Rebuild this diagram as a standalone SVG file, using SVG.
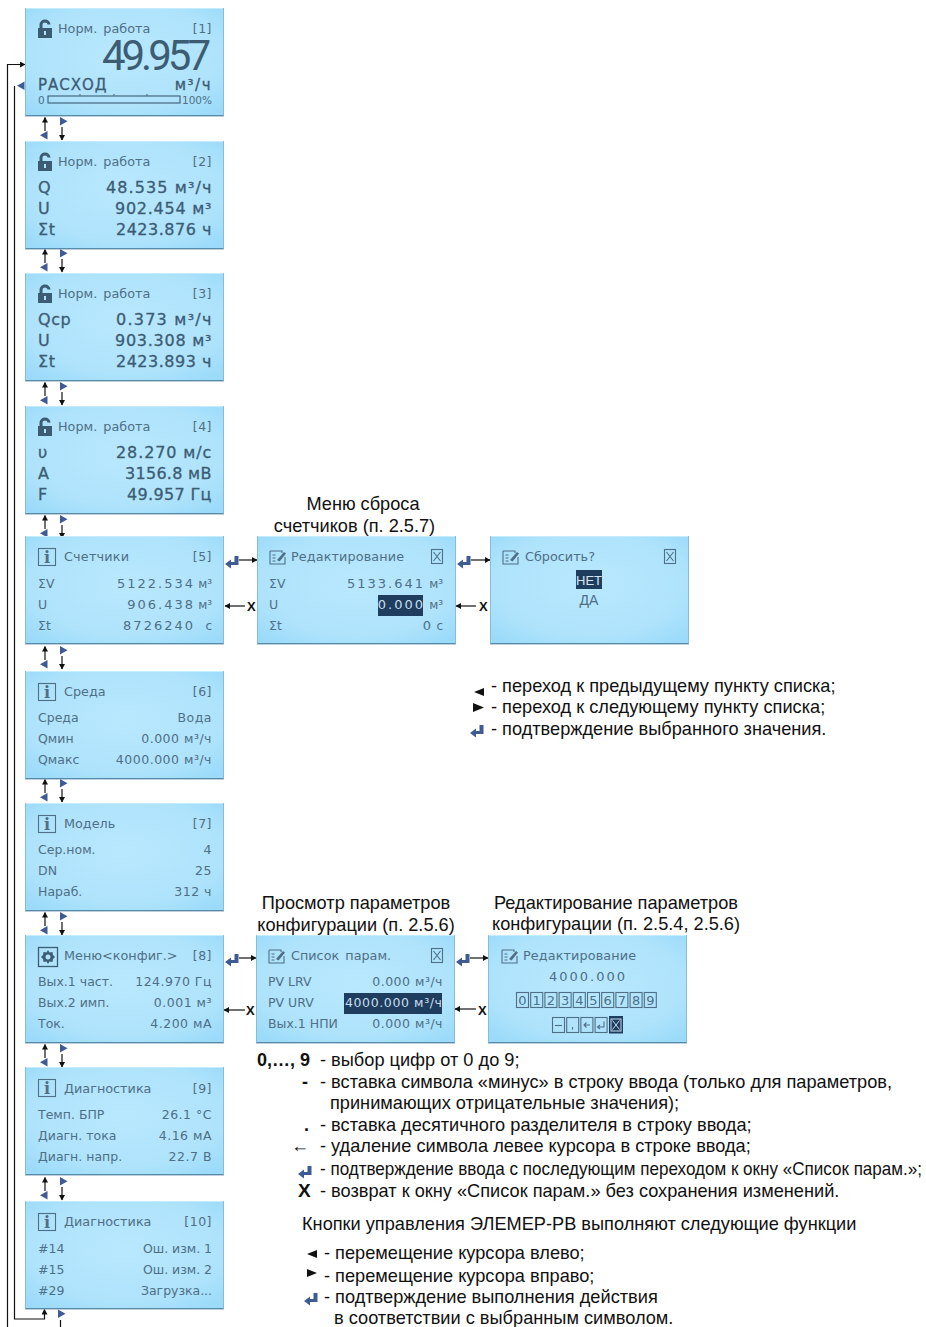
<svg xmlns="http://www.w3.org/2000/svg" xmlns:xlink="http://www.w3.org/1999/xlink" width="926" height="1327" viewBox="0 0 926 1327">
<style>
text{font-family:"DejaVu Sans",sans-serif;fill:#4f6f86}
.t{font-size:12.8px;word-spacing:2px}
.r{font-size:12.5px;text-anchor:end;letter-spacing:.5px}
.n{font-size:12.5px;text-anchor:end}
.l{font-size:12.5px}
.w{font-size:13px;text-anchor:end;letter-spacing:2px}
.u{font-size:12px;text-anchor:end}
.b{font-size:16px;fill:#3c5c74;stroke:#3c5c74;stroke-width:.3;letter-spacing:.6px}
.be{text-anchor:end}
.s{font-family:"Liberation Sans",Arial,sans-serif;font-size:18.2px;fill:#111}
.c{text-anchor:middle}
.k{font-family:"Liberation Sans",Arial,sans-serif;font-weight:bold;fill:#111;font-size:18px}
.x{font-family:"Liberation Sans",Arial,sans-serif;font-weight:bold;fill:#111;font-size:13px}
.line{fill:none;stroke:#111;stroke-width:1.2}
.box{fill:none;stroke:#4f6f86;stroke-width:1.1}
</style>
<defs>
<radialGradient id="lcd" cx="50%" cy="45%" r="68%"><stop offset="0" stop-color="#b8e8fe"/><stop offset=".7" stop-color="#afe3fc"/><stop offset="1" stop-color="#9bdbf9"/></radialGradient>
<g id="panel"><rect x="0" y="0" width="199" height="108" fill="url(#lcd)"/><rect x="0" y="0" width="199" height="1" fill="#c4ecfd"/><rect x="0" y="107" width="199" height="1.400" fill="#5a8aaa"/><rect x="0" y="0" width=".8" height="108" fill="#7fb4d2"/><rect x="198.200" y="0" width=".8" height="108" fill="#7fb4d2"/></g>
<g id="lock"><path d="M0 8h14v10H0z" fill="#3c5c74"/><path d="M3 8V4.500a4 3.500 0 0 1 8 0" fill="none" stroke="#3c5c74" stroke-width="3"/><rect x="6" y="11" width="2" height="4" fill="#b0e3fc"/></g>
<g id="info"><rect x=".5" y=".5" width="17" height="17" class="box"/><text x="9" y="15" text-anchor="middle" style="font-family:'DejaVu Serif',serif;font-size:16px;font-weight:bold;fill:#4f6f86">i</text></g>
<g id="edit"><path d="M1 2h12l0 2M1 2v13h15V8" class="box"/><path d="M3.500 6h3M3.500 9h3M3.500 12h3" class="box"/><path d="M8 11l7-8 2 1.500-6.500 8z" fill="#4f6f86"/></g>
<g id="xbox"><rect x=".5" y=".5" width="11" height="14" class="box"/><path d="M2.500 3l7 9M9.500 3l-7 9" class="box"/></g>
<path id="enter" d="M9.500 0h4v9H6v3.500L0 8l6-4.500V6h3.500z" fill="#3f5b94"/>
<path id="tl" d="M7.500 0v8.500L0 4.250z" fill="#3f5b94"/>
<path id="tr" d="M0 0v8.500L7.500 4.250z" fill="#3f5b94"/>
<marker id="ah" markerUnits="userSpaceOnUse" markerWidth="7" markerHeight="7" refX="5" refY="3" orient="auto"><path d="M0 0L5.500 3L0 6z" fill="#111"/></marker>
<g id="ud"><path d="M20 15V1.500" class="line" marker-end="url(#ah)"/><path d="M37 11V24" class="line" marker-end="url(#ah)"/><use href="#tl" x="15" y="15"/><use href="#tr" x="35" y="1"/></g>
</defs>

<g id="connectors">
<path d="M7.500 1327V64.500H25" class="line" marker-end="url(#ah)"/>
<path d="M14.500 86V1319H44.500V1309.500" class="line" marker-end="url(#ah)"/>
<use href="#tl" x="17" y="81.500"/>
<use href="#ud" x="25" y="116"/>
<use href="#ud" x="25" y="248"/>
<use href="#ud" x="25" y="381"/>
<use href="#ud" x="25" y="514"/>
<use href="#ud" x="25" y="645"/>
<use href="#ud" x="25" y="778"/>
<use href="#ud" x="25" y="911"/>
<use href="#ud" x="25" y="1043"/>
<use href="#ud" x="25" y="1176"/>
<use href="#tr" x="58" y="1309.500"/>
<path d="M60.500 1320V1327" class="line"/>
<use href="#enter" x="225" y="556"/><path d="M239 560H257" class="line" marker-end="url(#ah)"/>
<path d="M245 606H225" class="line" marker-end="url(#ah)"/><text x="247" y="611" class="x">X</text>
<use href="#enter" x="457" y="556"/><path d="M471 560H490" class="line" marker-end="url(#ah)"/>
<path d="M476 606H456" class="line" marker-end="url(#ah)"/><text x="479" y="611" class="x">X</text>
<use href="#enter" x="225" y="954"/><path d="M239 958H256" class="line" marker-end="url(#ah)"/>
<path d="M245 1010H224" class="line" marker-end="url(#ah)"/><text x="246" y="1015" class="x">X</text>
<use href="#enter" x="456" y="954"/><path d="M470 958H488" class="line" marker-end="url(#ah)"/>
<path d="M476 1009H455" class="line" marker-end="url(#ah)"/><text x="478" y="1015" class="x">X</text>
</g>

<g id="n1" transform="translate(25,8)"><use href="#panel"/><use href="#lock" x="13" y="12"/><text x="33" y="25" class="t">Норм. работа</text><text x="187" y="25" class="r">[1]</text>
<text x="182" y="62" text-anchor="end" style="font-family:Roboto,sans-serif;font-weight:400;font-size:42px;letter-spacing:-4px;fill:#3c5c74">49.957</text>
<text x="13" y="82" class="b" style="font-size:15px;letter-spacing:1px">РАСХОД</text><text x="187" y="82" class="b be" style="letter-spacing:1.500px;font-size:15px">м³/ч</text>
<text x="13" y="96" style="font-size:10.5px">0</text><rect x="23" y="88" width="132" height="7" fill="none" stroke="#3c5c74" stroke-width="1.100"/><path d="M55 86v2M89 86v2M122 86v2" class="box"/><text x="187" y="96" text-anchor="end" style="font-size:10.5px">100%</text></g>

<g id="n2" transform="translate(25,141)"><use href="#panel"/><use href="#lock" x="13" y="12"/><text x="33" y="25" class="t">Норм. работа</text><text x="187" y="25" class="r">[2]</text>
<text x="13" y="52" class="b">Q</text><text x="187" y="52" class="b be" textLength="106">48.535 м³/ч</text>
<text x="13" y="73" class="b">U</text><text x="187" y="73" class="b be" textLength="97">902.454 м³</text>
<text x="13" y="94" class="b">Σt</text><text x="187" y="94" class="b be" textLength="96">2423.876 ч</text></g>

<g id="n3" transform="translate(25,273)"><use href="#panel"/><use href="#lock" x="13" y="12"/><text x="33" y="25" class="t">Норм. работа</text><text x="187" y="25" class="r">[3]</text>
<text x="13" y="52" class="b">Qср</text><text x="187" y="52" class="b be" textLength="96">0.373 м³/ч</text>
<text x="13" y="73" class="b">U</text><text x="187" y="73" class="b be" textLength="97">903.308 м³</text>
<text x="13" y="94" class="b">Σt</text><text x="187" y="94" class="b be" textLength="96">2423.893 ч</text></g>

<g id="n4" transform="translate(25,406)"><use href="#panel"/><use href="#lock" x="13" y="12"/><text x="33" y="25" class="t">Норм. работа</text><text x="187" y="25" class="r">[4]</text>
<text x="13" y="52" class="b">υ</text><text x="187" y="52" class="b be" textLength="96">28.270 м/с</text>
<text x="13" y="73" class="b">A</text><text x="187" y="73" class="b be" textLength="87">3156.8 мВ</text>
<text x="13" y="94" class="b">F</text><text x="187" y="94" class="b be" textLength="85">49.957 Гц</text></g>

<g id="n5" transform="translate(25,536)"><use href="#panel"/><use href="#info" x="13" y="12"/><text x="39" y="25" class="t" textLength="65">Счетчики</text><text x="187" y="25" class="r">[5]</text>
<text x="13" y="52" class="l">ΣV</text><text x="170" y="52" class="w">5122.534</text><text x="187" y="52" class="u">м³</text>
<text x="13" y="73" class="l">U</text><text x="170" y="73" class="w">906.438</text><text x="187" y="73" class="u">м³</text>
<text x="13" y="94" class="l">Σt</text><text x="170" y="94" class="w">8726240</text><text x="187" y="94" class="u">с</text></g>

<g id="n5b" transform="translate(257,536)"><use href="#panel"/><use href="#edit" x="12" y="13"/><text x="34" y="25" class="t" textLength="113">Редактирование</text><use href="#xbox" x="174" y="13"/>
<text x="12" y="52" class="l">ΣV</text><text x="168" y="52" class="w">5133.641</text><text x="186" y="52" class="u">м³</text>
<text x="12" y="73" class="l">U</text><rect x="121" y="59" width="45" height="21" fill="#1f3d5e"/><text x="168" y="73" class="w" style="fill:#c8deee">0.000</text><text x="186" y="73" class="u">м³</text>
<text x="12" y="94" class="l">Σt</text><text x="176" y="94" class="w">0</text><text x="186" y="94" class="u">с</text></g>

<g id="n5c" transform="translate(490,536)"><use href="#panel"/><use href="#edit" x="12" y="13"/><text x="35" y="25" class="t">Сбросить?</text><use href="#xbox" x="174" y="13"/>
<rect x="86" y="34" width="26" height="19" fill="#1f3d5e"/><text x="99" y="49" text-anchor="middle" style="font-family:'Liberation Sans',sans-serif;font-size:13px;fill:#d5e6f2">НЕТ</text>
<text x="99" y="69" text-anchor="middle" style="font-family:'Liberation Sans',sans-serif;font-size:14px">ДА</text></g>

<g id="n6" transform="translate(25,671)"><use href="#panel"/><use href="#info" x="13" y="12"/><text x="39" y="25" class="t">Среда</text><text x="187" y="25" class="r">[6]</text>
<text x="13" y="51" class="l">Среда</text><text x="187" y="51" class="r">Вода</text>
<text x="13" y="72" class="l">Qмин</text><text x="187" y="72" class="r">0.000 м³/ч</text>
<text x="13" y="93" class="l">Qмакс</text><text x="187" y="93" class="r">4000.000 м³/ч</text></g>

<g id="n7" transform="translate(25,803)"><use href="#panel"/><use href="#info" x="13" y="12"/><text x="39" y="25" class="t">Модель</text><text x="187" y="25" class="r">[7]</text>
<text x="13" y="51" class="l">Сер.ном.</text><text x="187" y="51" class="r">4</text>
<text x="13" y="72" class="l">DN</text><text x="187" y="72" class="r">25</text>
<text x="13" y="93" class="l">Нараб.</text><text x="187" y="93" class="r">312 ч</text></g>

<g id="n8" transform="translate(25,935)"><use href="#panel"/><rect x="13.500" y="12.500" width="19" height="19" fill="none" stroke="#3c5c74" stroke-width="1.300"/><path d="M23 15l1.500 2.500 3-.5.500 3 2 2-2 2-.5 3-3-.5L23 29l-1.500-2.500-3 .5-.5-3-2-2 2-2 .5-3 3 .5zM23 19.500a2.500 2.500 0 1 0 .01 0z" fill="#3c5c74" fill-rule="evenodd"/><text x="39" y="25" class="t">Меню&lt;конфиг.&gt;</text><text x="187" y="25" class="r">[8]</text>
<text x="13" y="51" class="l">Вых.1 част.</text><text x="187" y="51" class="r">124.970 Гц</text>
<text x="13" y="72" class="l">Вых.2 имп.</text><text x="187" y="72" class="r">0.001 м³</text>
<text x="13" y="93" class="l">Ток.</text><text x="187" y="93" class="r">4.200 мА</text></g>

<g id="n8b" transform="translate(256,935)"><use href="#panel"/><use href="#edit" x="12" y="13"/><text x="35" y="25" class="t">Список парам.</text><use href="#xbox" x="175" y="13"/>
<text x="12" y="51" class="l">PV LRV</text><text x="187" y="51" class="r">0.000 м³/ч</text>
<text x="12" y="72" class="l">PV URV</text><rect x="88" y="58" width="98" height="21" fill="#1f3d5e"/><text x="186" y="72" class="n" style="fill:#c8deee" textLength="97">4000.000 м³/ч</text>
<text x="12" y="93" class="l">Вых.1 НПИ</text><text x="187" y="93" class="r">0.000 м³/ч</text></g>

<g id="n8c" transform="translate(488,935)"><use href="#panel"/><use href="#edit" x="13" y="13"/><text x="35" y="25" class="t" textLength="113">Редактирование</text>
<text x="100" y="46" text-anchor="middle" style="font-size:13px;letter-spacing:2px">4000.000</text>
<g text-anchor="middle" style="font-size:13px">
<rect x="28.500" y="57.500" width="12" height="15" class="box"/><text x="34.500" y="70">0</text>
<rect x="42.700" y="57.500" width="12" height="15" class="box"/><text x="48.700" y="70">1</text>
<rect x="56.900" y="57.500" width="12" height="15" class="box"/><text x="62.900" y="70">2</text>
<rect x="71.100" y="57.500" width="12" height="15" class="box"/><text x="77.100" y="70">3</text>
<rect x="85.300" y="57.500" width="12" height="15" class="box"/><text x="91.300" y="70">4</text>
<rect x="99.500" y="57.500" width="12" height="15" class="box"/><text x="105.500" y="70">5</text>
<rect x="113.700" y="57.500" width="12" height="15" class="box"/><text x="119.700" y="70">6</text>
<rect x="127.900" y="57.500" width="12" height="15" class="box"/><text x="133.900" y="70">7</text>
<rect x="142.100" y="57.500" width="12" height="15" class="box"/><text x="148.100" y="70">8</text>
<rect x="156.300" y="57.500" width="12" height="15" class="box"/><text x="162.300" y="70">9</text>
</g>
<rect x="64.500" y="82.500" width="12" height="15" class="box"/><path d="M67 90.500h7" class="box"/>
<rect x="78.700" y="82.500" width="12" height="15" class="box"/><path d="M84.500 92v2.500" class="box"/>
<rect x="92.900" y="82.500" width="12" height="15" class="box"/><path d="M102 90h-6M98.500 87.500L96 90l2.500 2.500" class="box"/>
<rect x="107.100" y="82.500" width="12" height="15" class="box"/><path d="M116 86.500V92h-6M112 90l-2.500 2 2.500 2" class="box"/>
<rect x="121" y="81" width="14" height="17.500" fill="#1f3d5e"/><rect x="123" y="84" width="10" height="12" fill="none" stroke="#c8deee"/><path d="M124.500 85.500l7 9M131.500 85.500l-7 9" stroke="#c8deee" fill="none"/></g>

<g id="n9" transform="translate(25,1067)"><use href="#panel"/><use href="#info" x="13" y="12"/><text x="39" y="26" class="t">Диагностика</text><text x="187" y="26" class="r">[9]</text>
<text x="13" y="52" class="l">Темп. БПР</text><text x="187" y="52" class="r">26.1 °С</text>
<text x="13" y="73" class="l">Диагн. тока</text><text x="187" y="73" class="r">4.16 мА</text>
<text x="13" y="94" class="l">Диагн. напр.</text><text x="187" y="94" class="r">22.7 В</text></g>

<g id="n10" transform="translate(25,1201)"><use href="#panel"/><use href="#info" x="13" y="12"/><text x="39" y="25" class="t">Диагностика</text><text x="187" y="25" class="r">[10]</text>
<text x="13" y="52" class="l">#14</text><text x="187" y="52" class="n" textLength="69">Ош. изм. 1</text>
<text x="13" y="73" class="l">#15</text><text x="187" y="73" class="n" textLength="69">Ош. изм. 2</text>
<text x="13" y="94" class="l">#29</text><text x="187" y="94" class="n" textLength="71">Загрузка...</text></g>

<g id="captions">
<text x="363" y="510" class="s c">Меню сброса</text><text x="354.500" y="532" class="s c">счетчиков (п. 2.5.7)</text>
<text x="356" y="909" class="s c">Просмотр параметров</text><text x="356" y="931" class="s c">конфигурации (п. 2.5.6)</text>
<text x="616" y="909" class="s c">Редактирование параметров</text><text x="616" y="930" class="s c">конфигурации (п. 2.5.4, 2.5.6)</text>
</g>

<g id="legend-top">
<path d="M484 688v8l-10-4z" fill="#111"/><text x="491" y="692" class="s">- переход к предыдущему пункту списка;</text>
<path d="M473 703v9l11-4.500z" fill="#111"/><text x="491" y="713" class="s">- переход к следующему пункту списка;</text>
<use href="#enter" x="470" y="725"/><text x="491" y="735" class="s">- подтверждение выбранного значения.</text>
</g>

<g id="legend-bottom">
<text x="257" y="1066" class="k">0,…, 9</text><text x="320" y="1066" class="s">- выбор цифр от 0 до 9;</text>
<text x="302" y="1088" class="k">-</text><text x="320" y="1088" class="s">- вставка символа «минус» в строку ввода (только для параметров,</text>
<text x="330" y="1109" class="s">принимающих отрицательные значения);</text>
<text x="304" y="1131" class="k">.</text><text x="320" y="1131" class="s">- вставка десятичного разделителя в строку ввода;</text>
<text x="291" y="1152" class="s">←</text><text x="320" y="1152" class="s">- удаление символа левее курсора в строке ввода;</text>
<use href="#enter" x="298" y="1166"/><text x="320" y="1175" class="s" textLength="602" lengthAdjust="spacingAndGlyphs">- подтверждение ввода с последующим переходом к окну «Список парам.»;</text>
<text x="298" y="1197" class="k" style="font-size:19px">X</text><text x="320" y="1197" class="s">- возврат к окну «Список парам.» без сохранения изменений.</text>
<text x="302" y="1230" class="s">Кнопки управления ЭЛЕМЕР-РВ выполняют следующие функции</text>
<path d="M317 1250v8l-10-4z" fill="#111"/><text x="324" y="1259" class="s">- перемещение курсора влево;</text>
<path d="M307 1269v8l10-4z" fill="#111"/><text x="324" y="1282" class="s">- перемещение курсора вправо;</text>
<use href="#enter" x="304" y="1293"/><text x="324" y="1303" class="s">- подтверждение выполнения действия</text>
<text x="334" y="1324" class="s">в соответствии с выбранным символом.</text>
</g>
</svg>
